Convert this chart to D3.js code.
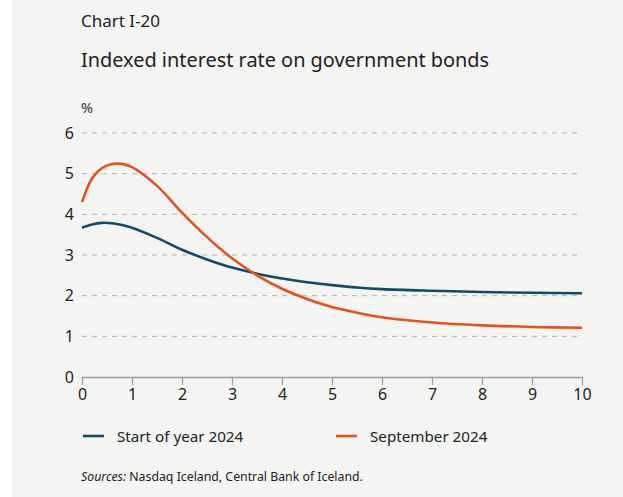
<!DOCTYPE html>
<html>
<head>
<meta charset="utf-8">
<script src="https://cdn.jsdelivr.net/npm/d3@7"></script>
<style>
  body { margin: 0; background: #fff; }
  svg { display: block; font-family: "Noto Sans", "Open Sans", sans-serif; }
</style>
</head>
<body>
<div id="chart"></div>
<script>
// maturity in years
const maturities = [0, 0.2, 0.4, 0.6, 0.8, 1, 1.5, 2, 2.5, 3, 3.5, 4, 4.5, 5, 5.5, 6, 7, 8, 9, 10];
const startOfYear = [3.67, 3.75, 3.79, 3.78, 3.74, 3.67, 3.42, 3.13, 2.89, 2.69, 2.54, 2.42, 2.33, 2.26, 2.2, 2.16, 2.12, 2.09, 2.07, 2.06];
const september = [4.3, 4.88, 5.14, 5.24, 5.24, 5.16, 4.7, 4.04, 3.44, 2.92, 2.5, 2.17, 1.92, 1.72, 1.58, 1.47, 1.34, 1.27, 1.23, 1.21];
const seriesNames = ['Start of year 2024', 'September 2024'];
const seriesColors = ['#0e4c6b', '#e8501c'];
const xTicks = [0, 1, 2, 3, 4, 5, 6, 7, 8, 9, 10];
const yTicks = [0, 1, 2, 3, 4, 5, 6];

const W = 623, H = 497;
const svg = d3.select('#chart').append('svg')
  .attr('width', W).attr('height', H);

svg.append('rect')
  .attr('x', 12).attr('y', 0)
  .attr('width', W - 12).attr('height', H)
  .attr('fill', '#f4f4f2');

const x = d3.scaleLinear().domain([0, 10]).range([82, 582]);
const y = d3.scaleLinear().domain([0, 6]).range([377, 133]);

// titles
svg.append('text').attr('x', 81).attr('y', 27)
  .attr('font-size', 17).attr('fill', '#222').text('Chart I-20');
svg.append('text').attr('x', 81).attr('y', 67)
  .attr('font-size', 19.9).attr('fill', '#222').text('Indexed interest rate on government bonds');
svg.append('text').attr('x', 81).attr('y', 113)
  .attr('font-size', 14.5).attr('fill', '#333').text('%');

// gridlines
svg.append('g')
  .selectAll('line')
  .data(yTicks.filter(d => d > 0))
  .enter()
  .append('line')
  .attr('x1', x(0)).attr('x2', x(10))
  .attr('y1', d => y(d)).attr('y2', d => y(d))
  .attr('stroke', '#b4b4b4')
  .attr('stroke-width', 1)
  .attr('stroke-dasharray', '5,5');

// y labels
svg.append('g')
  .selectAll('text')
  .data(yTicks)
  .enter()
  .append('text')
  .attr('x', 74)
  .attr('y', d => y(d) + 5.5)
  .attr('text-anchor', 'end')
  .attr('font-size', 16)
  .attr('fill', '#222')
  .text(d => d);

// x axis
const xAxis = svg.append('g')
  .attr('transform', 'translate(0,' + y(0) + ')')
  .call(d3.axisBottom(x).tickValues(xTicks).tickSize(8).tickSizeOuter(0).tickPadding(4));
xAxis.select('.domain').attr('stroke', '#9a9a9a').attr('stroke-width', 1.3);
xAxis.selectAll('.tick line').attr('stroke', '#9a9a9a').attr('stroke-width', 1.2);
xAxis.selectAll('.tick text')
  .attr('font-size', 16)
  .attr('font-family', '"Noto Sans", "Open Sans", sans-serif')
  .attr('fill', '#222');

// lines
const line = d3.line()
  .x((d, i) => x(maturities[i]))
  .y(d => y(d))
  .curve(d3.curveCatmullRom.alpha(0.5));

[startOfYear, september].forEach((s, i) => {
  svg.append('path')
    .datum(s)
    .attr('d', line)
    .attr('fill', 'none')
    .attr('stroke', seriesColors[i])
    .attr('stroke-width', 2.6);
});

// legend
const legendX = [83, 336];
seriesNames.forEach((name, i) => {
  svg.append('line')
    .attr('x1', legendX[i]).attr('x2', legendX[i] + 21)
    .attr('y1', 436).attr('y2', 436)
    .attr('stroke', seriesColors[i]).attr('stroke-width', 2.6);
  svg.append('text')
    .attr('x', legendX[i] + 34).attr('y', 441.5)
    .attr('font-size', 15.2).attr('fill', '#222')
    .text(name);
});

// sources
const src = svg.append('text').attr('x', 81).attr('y', 481)
  .attr('font-size', 12.3).attr('fill', '#222');
src.append('tspan').attr('font-style', 'italic').text('Sources:');
src.append('tspan').text(' Nasdaq Iceland, Central Bank of Iceland.');
</script>
</body>
</html>
